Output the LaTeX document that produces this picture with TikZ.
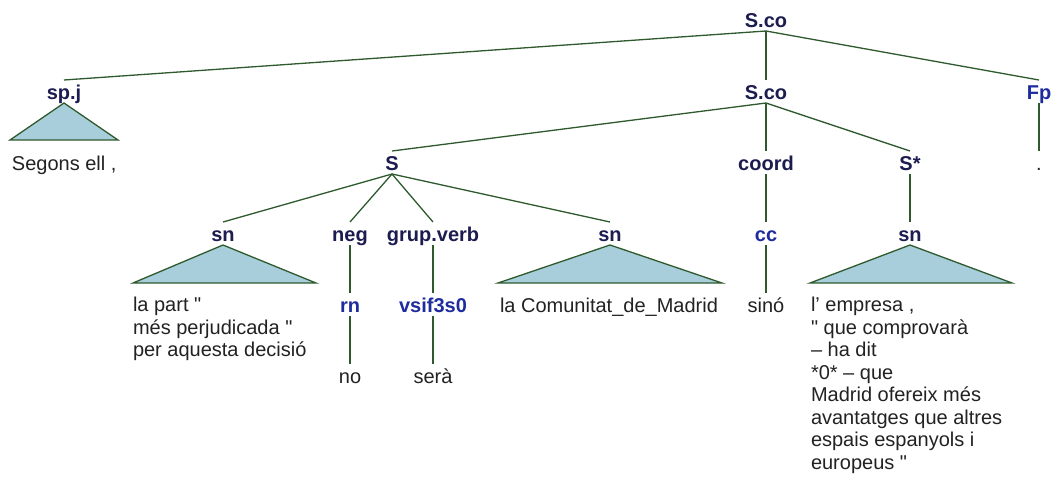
\documentclass[tikz,border=0pt]{standalone}
\usepackage{fontspec}
\setmainfont{Liberation Sans}
\definecolor{catcol}{HTML}{1C1C50}
\definecolor{poscol}{HTML}{1E2C9E}
\definecolor{wordcol}{HTML}{222222}
\definecolor{edgecol}{HTML}{2E5A2E}
\definecolor{trifill}{HTML}{A8CEDB}
\newcommand{\sq}{\textquotedbl}
\tikzset{
  nbase/.style={inner sep=0pt, outer sep=0pt, text height=19pt, text depth=4pt, anchor=base,
    font=\fontsize{20}{22.5}\selectfont},
  cat/.style={nbase, font=\fontsize{20}{22.5}\selectfont\bfseries, text=catcol},
  postag/.style={nbase, font=\fontsize{20}{22.5}\selectfont\bfseries, text=poscol},
  word/.style={nbase, text=wordcol},
  multi/.style={inner sep=0pt, outer sep=0pt, anchor=north west, align=left, text=wordcol,
    font=\fontsize{20}{22.5}\selectfont},
  edge/.style={draw=edgecol, line width=1.3pt},
  tri/.style={draw=edgecol, fill=trifill, line width=1.3pt, line join=miter}
}
\begin{document}
\begin{tikzpicture}[x=1pt,y=-1pt]
\useasboundingbox[fill=white] (0,0) rectangle (1058,477);
% nodes
\node[cat] (sco1) at (766,27) {S.co};
\node[cat] (spj) at (64,99) {sp.j};
\node[cat] (sco2) at (766,99) {S.co};
\node[postag] (fp) at (1039,99) {Fp};
\node[word, anchor=base west] (segons) at (12,170) {Segons ell ,};
\node[word] (dot) at (1039,170) {.};
\node[cat] (s) at (392,170) {S};
\node[cat] (coord) at (766,170) {coord};
\node[cat] (sstar) at (910,170) {S*};
\node[cat] (sn1) at (223,241) {sn};
\node[cat] (neg) at (350,241) {neg};
\node[cat] (gv) at (433,241) {grup.verb};
\node[cat] (sn2) at (610,241) {sn};
\node[postag] (cc) at (766,241) {cc};
\node[cat] (sn3) at (910,241) {sn};
\node[postag] (rn) at (350,312) {rn};
\node[postag] (vsif) at (433,312) {vsif3s0};
\node[word] (sino) at (766,312) {sinó};
\node[word] (lacom) at (609,312) {la Comunitat\_de\_Madrid};
\node[word] (no) at (350,383) {no};
\node[word] (sera) at (433,383) {serà};
\node[multi] (t1) at (133,297.5) {la part \sq\\més perjudicada \sq\\per aquesta decisió};
\node[multi] (t3) at (811,297.5) {l' empresa ,\\\sq{} que comprovarà\\– ha dit\\*0* – que\\Madrid ofereix més\\avantatges que altres\\espais espanyols i\\europeus \sq};
% triangles
\filldraw[tri] (spj.south) -- (10,140) -- (118,140) -- cycle;
\filldraw[tri] (sn1.south) -- (133,283) -- (316,283) -- cycle;
\filldraw[tri] (sn2.south) -- (498,283) -- (722,283) -- cycle;
\filldraw[tri] (sn3.south) -- (810,283) -- (1012,283) -- cycle;
% edges
\draw[edge] (sco1.south) -- (spj.north);
\draw[edge] (sco1.south) -- (sco2.north);
\draw[edge] (sco1.south) -- (fp.north);
\draw[edge] (fp.south) -- (dot.north);
\draw[edge] (sco2.south) -- (s.north);
\draw[edge] (sco2.south) -- (coord.north);
\draw[edge] (sco2.south) -- (sstar.north);
\draw[edge] (s.south) -- (sn1.north);
\draw[edge] (s.south) -- (neg.north);
\draw[edge] (s.south) -- (gv.north);
\draw[edge] (s.south) -- (sn2.north);
\draw[edge] (coord.south) -- (cc.north);
\draw[edge] (cc.south) -- (sino.north);
\draw[edge] (sstar.south) -- (sn3.north);
\draw[edge] (neg.south) -- (rn.north);
\draw[edge] (rn.south) -- (no.north);
\draw[edge] (gv.south) -- (vsif.north);
\draw[edge] (vsif.south) -- (sera.north);
\end{tikzpicture}
\end{document}
